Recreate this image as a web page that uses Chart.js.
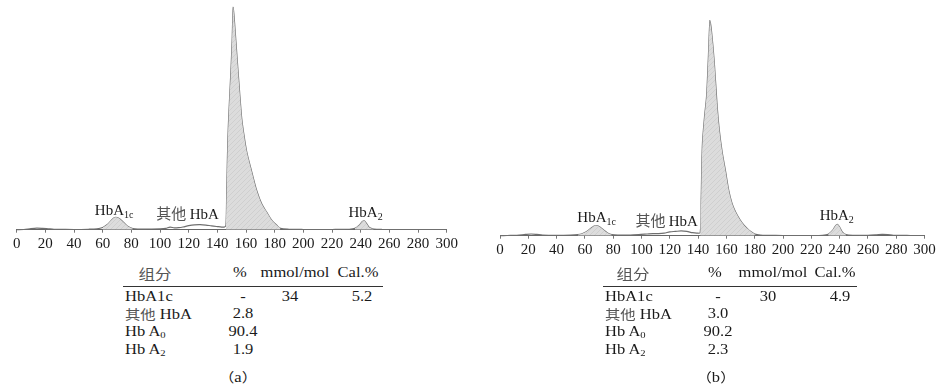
<!DOCTYPE html>
<html>
<head>
<meta charset="utf-8">
<script src="https://cdn.jsdelivr.net/npm/chart.js@4.4.1/dist/chart.umd.min.js"></script>
<style>
body { margin: 0; background: #fff; width: 944px; height: 388px; position: relative; overflow: hidden;
       font-family: 'Liberation Serif', 'Noto Sans CJK SC', serif; color: #1a1a1a; }
.wrap { position: absolute; }
.cell { position: absolute; font-size: 14px; line-height: 16px; white-space: nowrap; }
.cell sub { font-size: 9px; vertical-align: -2px; }
.cjk { font-family: 'Noto Sans CJK SC', sans-serif; color: #555; font-size: 13px; }
.rule { position: absolute; height: 1px; background: #333; }
</style>
</head>
<body>
<div class="wrap" style="left:0;top:0;width:470px;height:260px"><canvas id="chartA"></canvas></div>
<div class="wrap" style="left:480px;top:0;width:465px;height:266px"><canvas id="chartB"></canvas></div>
<div id="tableA"></div>
<div id="tableB"></div>

<script>
// retention time (s) and detector signal
const timeA = [0, 5, 10, 14, 18, 22, 26, 30, 40, 50, 56, 60, 63, 66, 68, 70, 72, 75, 78, 81, 85, 90, 100, 104, 107, 110,
  113, 116, 120, 124, 128, 132, 136, 140, 143, 145, 146, 146.6, 147.3, 148, 149.5, 150.3, 151.1, 152, 153.9, 155.5, 157,
  158, 160.5, 164, 167.5, 171, 174.5, 178, 181.4, 184, 190, 200, 220, 232, 236, 239, 241, 242.5, 244, 246, 249, 255, 270, 290, 300];
const signalA = [0, 0.1, 0.5, 0.7, 0.6, 0.4, 0.2, 0.2, 0.1, 0.2, 0.4, 1.0, 2.2, 4.2, 5.4, 5.5, 4.8, 3.0, 1.3, 0.5, 0.3, 0.3, 0.4, 0.6,
  1.2, 0.8, 0.9, 1.2, 1.8, 2.2, 2.3, 2.1, 1.7, 1.4, 1.2, 1.2, 2, 20, 40, 52, 72, 85, 100, 93, 76, 62, 50,
  45, 35, 26, 17.5, 11.5, 7.8, 4.2, 2, 0.6, 0.2, 0.1, 0.1, 0.2, 0.6, 2.0, 3.6, 4.0, 2.8, 1.0, 0.3, 0.1, 0.1, 0.1, 0.1];

const timeB = [0, 5, 12, 18, 22, 26, 30, 40, 50, 55, 58, 61, 64, 66.5, 68, 70, 73, 76, 79, 84, 92, 98, 104, 108, 112, 116,
  120, 124, 128, 132, 136, 139, 141.5, 142.2, 143, 144.5, 146, 147.2, 148.4, 149.5, 151.4, 153.5, 155, 157, 159.4, 161.7,
  164, 166.5, 169.5, 172.4, 175, 177.2, 180, 184, 190, 200, 220, 228, 232, 235, 237, 238.3, 240, 242, 244.5, 250, 260,
  266, 270, 274, 278, 290, 300];
const signalB = [0, 0.1, 0.2, 0.6, 0.8, 0.6, 0.3, 0.2, 0.3, 0.5, 0.9, 1.8, 3.3, 4.5, 4.7, 4.3, 2.8, 1.3, 0.5, 0.3, 0.3, 0.5, 0.8,
  1.0, 1.0, 1.2, 1.8, 2.0, 2.2, 2.0, 1.4, 1.2, 1.4, 18, 42, 55, 65, 82, 100, 95, 81, 60, 49, 39, 30, 21,
  15, 11, 7.5, 4.9, 3.2, 2.0, 0.8, 0.3, 0.2, 0.1, 0.1, 0.2, 0.7, 2.5, 4.5, 5.3, 4.0, 1.6, 0.5, 0.2, 0.2,
  0.4, 0.6, 0.5, 0.2, 0.1, 0.1];

// time windows of the shaded peaks (HbA1c, HbA0, HbA2)
const peaksA = [[57, 83], [145.8, 186], [233, 250]];
const peaksB = [[55, 80], [141.3, 182], [229, 246]];

const xTicks = { min: 0, max: 300, step: 20 };

// result tables
const tableHead = ['组分', '%', 'mmol/mol', 'Cal.%'];
const components = ['HbA1c', '其他 HbA', 'Hb A0', 'Hb A2'];
const percentA = ['-', '2.8', '90.4', '1.9'];
const mmolA = ['34', '', '', ''];
const calA = ['5.2', '', '', ''];
const percentB = ['-', '3.0', '90.2', '2.3'];
const mmolB = ['30', '', '', ''];
const calB = ['4.9', '', '', ''];

function hatch() {
  const c = document.createElement('canvas');
  c.width = 5; c.height = 5;
  const g = c.getContext('2d');
  g.fillStyle = '#dcdcdc';
  g.fillRect(0, 0, 5, 5);
  g.strokeStyle = '#cbcbcb';
  g.lineWidth = 0.8;
  g.beginPath(); g.moveTo(0, 5); g.lineTo(5, 0); g.stroke();
  return g.createPattern(c, 'repeat');
}

const peakLabels = {
  id: 'peakLabels',
  afterDatasetsDraw(chart, args, opts) {
    const { ctx, scales: { x, y } } = chart;
    ctx.save();
    ctx.textBaseline = 'alphabetic';
    opts.items.forEach(it => {
      const parts = [];
      if (it.prefix) parts.push({ t: it.prefix, f: "15px 'Noto Sans CJK SC'", c: '#555', dy: 0 });
      parts.push({ t: it.text, f: "15px 'Liberation Serif'", c: '#1a1a1a', dy: 0 });
      if (it.sub) parts.push({ t: it.sub, f: "10px 'Liberation Serif'", c: '#1a1a1a', dy: 3 });
      let w = 0;
      parts.forEach(p => { ctx.font = p.f; p.w = ctx.measureText(p.t).width; w += p.w; });
      let px = x.getPixelForValue(it.x) - w / 2;
      const py = y.getPixelForValue(it.y);
      parts.forEach(p => {
        ctx.font = p.f; ctx.fillStyle = p.c;
        ctx.fillText(p.t, px, py + p.dy);
        px += p.w;
      });
    });
    ctx.restore();
  }
};

function makeChart(id, time, signal, peaks, pad, labels) {
  const pts = time.map((t, i) => ({ x: t, y: signal[i] }));
  const fill = hatch();
  const shaded = peaks.map(([a, b]) => ({
    data: pts.filter(p => p.x >= a && p.x <= b),
    borderWidth: 0,
    backgroundColor: fill,
    fill: 'origin',
    pointRadius: 0,
    tension: 0.3,
    clip: false
  }));
  return new Chart(document.getElementById(id), {
    type: 'line',
    data: {
      datasets: [...shaded, {
        data: pts,
        borderColor: '#6f6f6f',
        borderWidth: 1.2,
        pointRadius: 0,
        fill: false,
        tension: 0.3,
        clip: false
      }]
    },
    options: {
      responsive: true,
      maintainAspectRatio: false,
      animation: false,
      layout: { padding: pad },
      plugins: { legend: { display: false }, tooltip: { enabled: false }, peakLabels: { items: labels } },
      scales: {
        x: {
          type: 'linear', min: xTicks.min, max: xTicks.max,
          ticks: { stepSize: xTicks.step, autoSkip: false, maxRotation: 0, padding: 2, color: '#1a1a1a',
                   font: { family: 'Liberation Serif', size: 15 } },
          grid: { drawOnChartArea: false, tickLength: 3, color: '#777' },
          border: { color: '#666', width: 1 }
        },
        y: { display: false, min: 0, max: 100 }
      }
    },
    plugins: [peakLabels]
  });
}

makeChart('chartA', timeA, signalA, peaksA, { left: 16.7, right: 23.3, top: 7.3, bottom: 5.3 }, [
  { text: 'HbA', sub: '1c', x: 68, y: 6.6 },
  { prefix: '其他 ', text: 'HbA', x: 119.2, y: 4.8 },
  { text: 'HbA', sub: '2', x: 243.4, y: 5.7 }
]);
makeChart('chartB', timeB, signalB, peaksB, { left: 20, right: 20.5, top: 20.7, bottom: 5.3 }, [
  { text: 'HbA', sub: '1c', x: 68.3, y: 6.3 },
  { prefix: '其他 ', text: 'HbA', x: 117.8, y: 4.3 },
  { text: 'HbA', sub: '2', x: 238, y: 7.1 }
]);

// tables below each chromatogram
function cellHtml(s) {
  const m = s.match(/^(Hb A)(\d)$/);
  if (m) return m[1] + '<sub>' + m[2] + '</sub>';
  return s.replace('其他', '<span class="cjk">其他</span>');
}
function put(root, html, x, y, align) {
  const d = document.createElement('div');
  d.className = 'cell';
  d.innerHTML = html;
  d.style.left = x + 'px';
  d.style.top = (y - 8) + 'px';
  if (align === 'center') { d.style.transform = 'translateX(-50%) scaleX(1.18)'; }
  else { d.style.transformOrigin = 'left center'; d.style.transform = 'scaleX(1.18)'; }
  root.appendChild(d);
}
function buildTable(id, col, pct, mmol, cal, caption) {
  const root = document.getElementById(id);
  const rowsY = [297, 314, 331.5, 349.5];
  put(root, '<span class="cjk" style="font-size:14px">' + tableHead[0] + '</span>', col.head0, 273, 'center');
  put(root, tableHead[1], col.pctH, 273, 'center');
  put(root, tableHead[2], col.mmolH, 273, 'center');
  put(root, tableHead[3], col.calH, 273, 'center');
  const r = document.createElement('div');
  r.className = 'rule';
  r.style.left = col.ruleL + 'px'; r.style.width = (col.ruleR - col.ruleL) + 'px'; r.style.top = '286px';
  root.appendChild(r);
  components.forEach((c, i) => {
    put(root, cellHtml(c), col.comp, rowsY[i], 'left');
    if (pct[i]) put(root, pct[i], col.pct, rowsY[i], 'center');
    if (mmol[i]) put(root, mmol[i], col.mmol, rowsY[i], 'center');
    if (cal[i]) put(root, cal[i], col.cal, rowsY[i], 'center');
  });
  put(root, '<span class="cjk" style="color:#1a1a1a">（</span>' + caption + '<span class="cjk" style="color:#1a1a1a">）</span>', col.cap, 377, 'center');
}
buildTable('tableA', { head0: 154.5, pctH: 240, mmolH: 294.5, calH: 358, ruleL: 123, ruleR: 383,
  comp: 125, pct: 242.5, mmol: 290, cal: 362, cap: 238 }, percentA, mmolA, calA, 'a');
buildTable('tableB', { head0: 632.5, pctH: 715, mmolH: 772.5, calH: 835, ruleL: 603, ruleR: 857,
  comp: 605, pct: 718, mmol: 768, cal: 840, cap: 716 }, percentB, mmolB, calB, 'b');
</script>
</body>
</html>
